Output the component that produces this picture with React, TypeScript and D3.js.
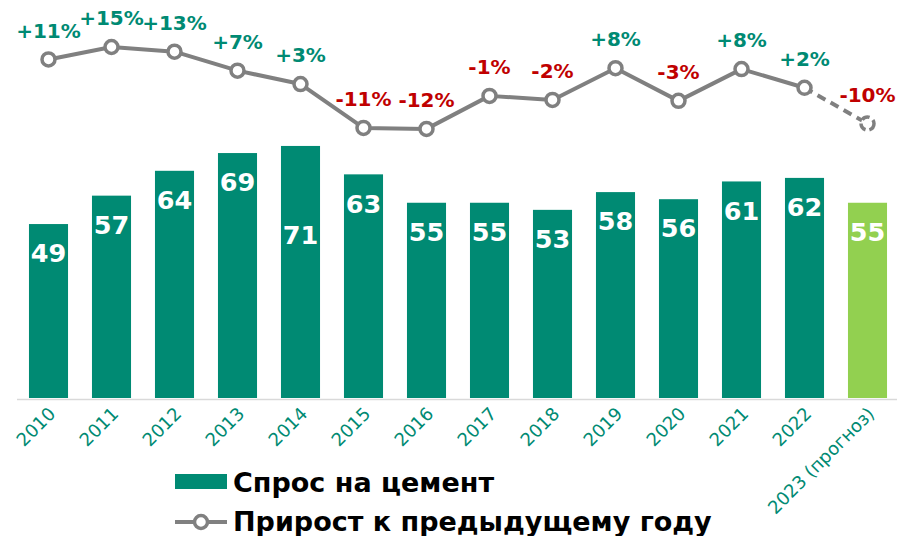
import React from "react";
import * as d3 from "d3";

const categories = ["2010","2011","2012","2013","2014","2015","2016","2017","2018","2019","2020","2021","2022","2023 (прогноз)"];
const demand = [49, 57, 64, 69, 71, 63, 55, 55, 53, 58, 56, 61, 62, 55];
const growth = [11, 15, 13.5, 7.4, 3.1, -11, -11.3, -0.7, -2, 8.2, -2.3, 7.9, 1.9, -9.6];
const growthLabels = ["+11%","+15%","+13%","+7%","+3%","-11%","-12%","-1%","-2%","+8%","-3%","+8%","+2%","-10%"];
const legendItems = ["Спрос на цемент", "Прирост к предыдущему году"];

const W = 897, H = 536;
const TEAL = "#008A73";
const FORECAST = "#92D050";
const RED = "#C00000";
const GRAY = "#808080";
const FONT = "'DejaVu Sans', Verdana, sans-serif";

export default function App() {
  const x = d3.scaleBand<string>().domain(categories).range([17, 899]).paddingInner(0.38).paddingOuter(0.19);
  const y = d3.scaleLinear().domain([0, 80]).range([398, 114]);
  const yg = d3.scaleLinear().domain([-15, 15]).range([140.4, 47]);
  const cx = (c: string) => (x(c) as number) + x.bandwidth() / 2;
  const n = categories.length;
  const pts: [number, number][] = growth.map((g, i) => [cx(categories[i]), yg(g)]);
  const line = d3.line();
  const solid = line(pts.slice(0, n - 1)) as string;
  const dashed = line(pts.slice(n - 2)) as string;

  return (
    <svg width={W} height={H} style={{ position: "absolute", left: 0, top: 0, background: "#fff" }} fontFamily={FONT}>
      {demand.map((v, i) => (
        <rect key={i} x={x(categories[i])} y={y(v)} width={x.bandwidth()} height={y(0) - y(v)}
          fill={i === n - 1 ? FORECAST : TEAL} />
      ))}
      <line x1={17} x2={897} y1={399.5} y2={399.5} stroke="#D9D9D9" strokeWidth={1.5} />
      {demand.map((v, i) => (
        <text key={i} x={cx(categories[i])} y={y(v) + 29 + (i === 4 ? 60 : 0)} dy="0.36em"
          textAnchor="middle" fill="#fff" fontWeight="bold" fontSize={25.5}>{v}</text>
      ))}
      {categories.map((c, i) => (
        <text key={c} transform={`translate(${cx(c) + 1},${408}) rotate(-45)`} textAnchor="end"
          fill={TEAL} fontSize={18} dy="0.55em">{c}</text>
      ))}
      <path d={solid} fill="none" stroke={GRAY} strokeWidth={4} strokeLinejoin="round" />
      <path d={dashed} fill="none" stroke={GRAY} strokeWidth={4} strokeDasharray="9,6" />
      {pts.map(([px, py], i) => (
        <circle key={i} cx={px} cy={py} r={6.5} fill="#fff" stroke={GRAY} strokeWidth={3.5}
          strokeDasharray={i === n - 1 ? "8,4" : undefined} />
      ))}
      {pts.map(([px, py], i) => (
        <text key={i} x={px} y={py - 29} dy="0.36em" textAnchor="middle" fontWeight="bold" fontSize={20}
          fill={growth[i] >= 0 ? TEAL : RED}>{growthLabels[i]}</text>
      ))}
      <rect x={175} y={474} width={52} height={15} fill={TEAL} />
      <text x={233} y={492} fontWeight="bold" fontSize={27} fill="#000">{legendItems[0]}</text>
      <line x1={175} x2={227} y1={522} y2={522} stroke={GRAY} strokeWidth={4} />
      <circle cx={201} cy={522} r={6.5} fill="#fff" stroke={GRAY} strokeWidth={3.5} />
      <text x={233} y={531} fontWeight="bold" fontSize={27} fill="#000">{legendItems[1]}</text>
    </svg>
  );
}
